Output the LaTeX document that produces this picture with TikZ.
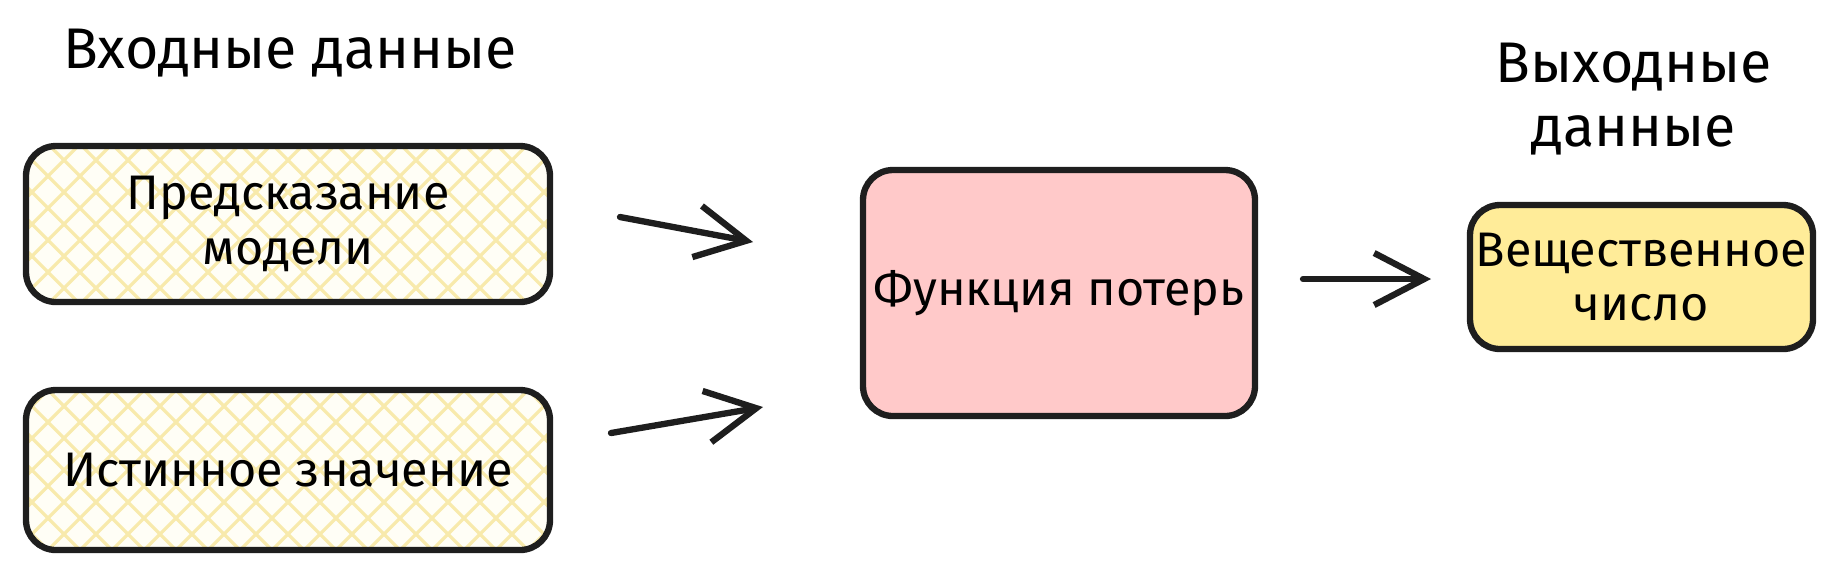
\documentclass[tikz,border=0pt]{standalone}
\usepackage{fontspec}
\setmainfont{Fira Sans}
\usepackage{tikz}
\usetikzlibrary{calc,arrows.meta}

\definecolor{ink}{RGB}{30,30,30}
\definecolor{cream}{RGB}{255,254,246}
\definecolor{hatchy}{RGB}{248,234,172}
\definecolor{pinkfill}{RGB}{255,201,201}
\definecolor{yellowfill}{RGB}{255,236,153}

\begin{document}
\begin{tikzpicture}[
    box/.style={draw=ink, line width=1.8pt, rounded corners=3mm, align=center,
      font=\fontsize{13.8}{15.6}\selectfont, inner sep=0pt},
    hatchbox/.style={box, fill=cream, minimum width=5.24cm,
      path picture={% cross hatch inside the box
        \foreach \k in {-12,...,12}{%
          \draw[hatchy, line width=0.9pt] ([xshift=\k*3.2mm]path picture bounding box.center) ++(-1,-1) -- ++(2,2);
          \draw[hatchy, line width=0.9pt] ([xshift=\k*3.2mm]path picture bounding box.center) ++(1,-1) -- ++(-2,2);
        }
      }},
    title/.style={align=center, font=\fontsize{16.3}{18.2}\selectfont},
    flow/.style={draw=ink, line width=1.8pt, line cap=round,
      -{Straight Barb[length=5mm, width=5.2mm, line width=1.8pt]}}
  ]
    \useasboundingbox (0,0) rectangle (18.36,-5.76);% picture frame

    % headings
    \node[title] (InTitle)  at (2.90,-0.53) {Входные данные};
    \node[title] (OutTitle) at (16.34,-0.99) {Выходные\\данные};

    % boxes
    \node[hatchbox, minimum height=1.56cm] (Pred)  at (2.88,-2.24) {Предсказание\\модели};
    \node[hatchbox, minimum height=1.60cm] (Truth) at (2.88,-4.70) {Истинное значение};
    \node[box, fill=pinkfill, minimum width=3.92cm, minimum height=2.46cm] (Loss) at (10.59,-2.93) {Функция потерь};
    \node[box, fill=yellowfill, minimum width=3.43cm, minimum height=1.44cm] (Out) at (16.415,-2.77) {Вещественное\\число};

    % free arrow ends
    \coordinate (PredA)  at (6.20,-2.17);
    \coordinate (PredB)  at (7.53,-2.42);
    \coordinate (TruthA) at (6.11,-4.33);
    \coordinate (TruthB) at (7.63,-4.07);
    \coordinate (LossA)  at (13.03,-2.79);
    \coordinate (LossB)  at (14.31,-2.79);
    \draw[flow] (PredA) -- (PredB);
    \draw[flow] (TruthA) -- (TruthB);
    \draw[flow] (LossA) -- (LossB);
\end{tikzpicture}
\end{document}
